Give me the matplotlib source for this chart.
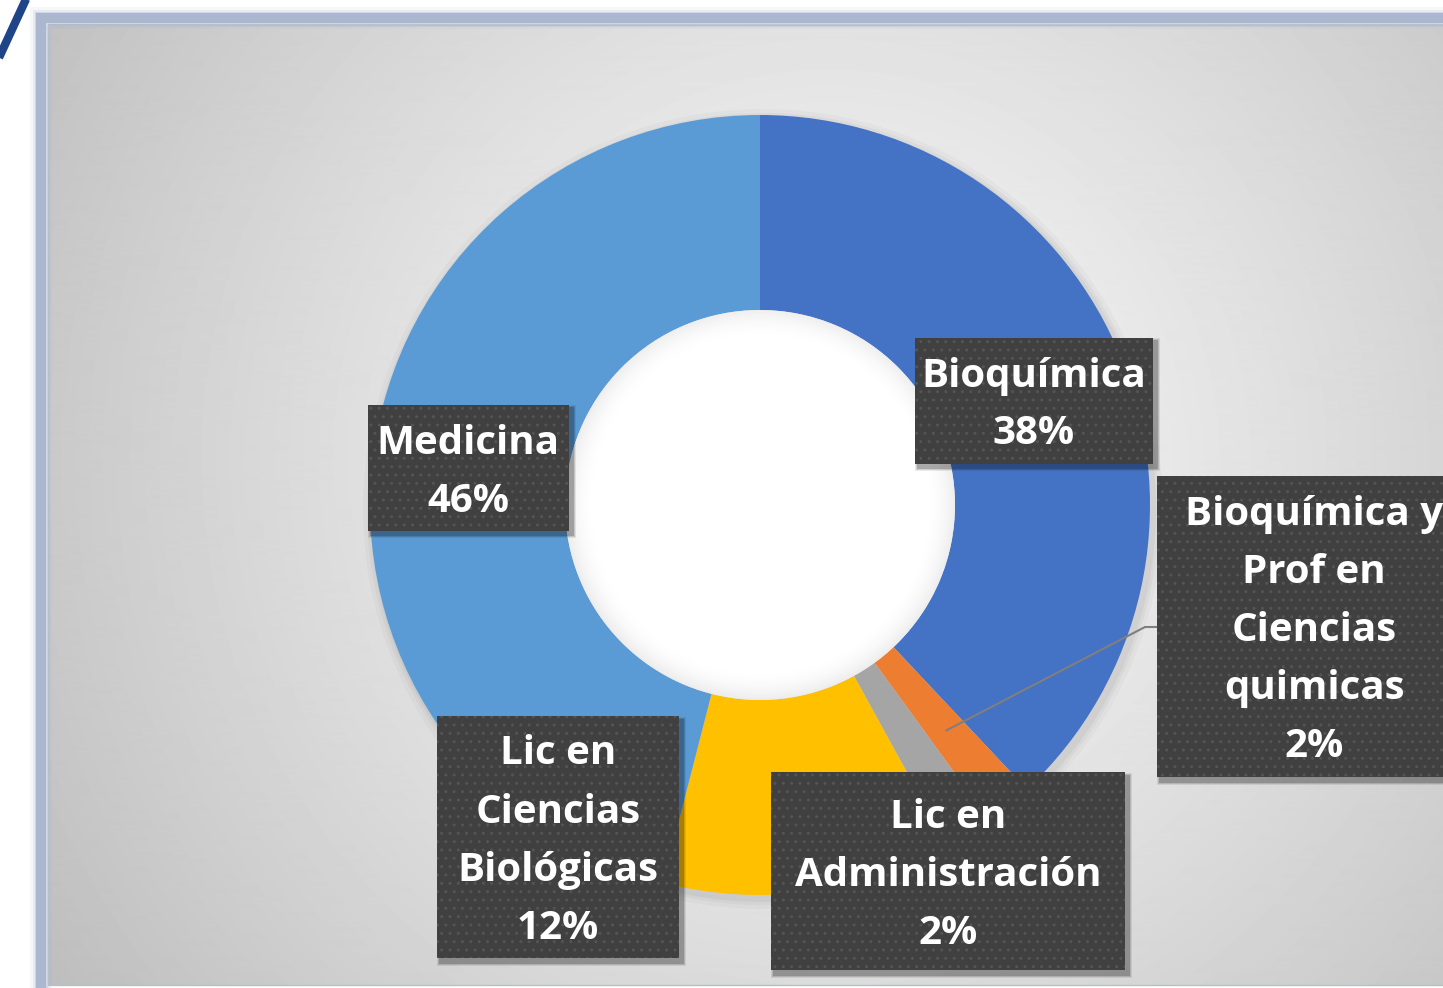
import matplotlib
matplotlib.use('Agg')
import matplotlib.pyplot as plt
import numpy as np
from matplotlib.patches import Rectangle, Circle

categories = ['Bioquímica', 'Bioquímica y\nProf en\nCiencias\nquimicas',
              'Lic en\nAdministración', 'Lic en\nCiencias\nBiológicas', 'Medicina']
values = [38, 2, 2, 12, 46]
colors = ['#4472C4', '#ED7D31', '#A5A5A5', '#FFC000', '#5B9BD5']

W, H = 1443, 988
plt.rcParams['hatch.linewidth'] = 1.0

fig = plt.figure(figsize=(W / 100, H / 100), dpi=100)
fig.patch.set_facecolor('white')
ax = fig.add_axes([0, 0, 1, 1])


def py(y):
    # pixel row (from top) -> data y
    return H - y


# chart area with radial gradient
x0, x1, top, bot = 48, W + 20, 25, 985
yy, xx = np.mgrid[py(bot):py(top), x0:W]
d = np.hypot(xx - 830, yy - py(460)) / 900.0
shade = np.clip(0.975 - 0.22 * d ** 1.2, 0, 1)
ax.imshow(shade, cmap='gray', vmin=0, vmax=1, origin='lower',
          extent=(x0, W, py(bot), py(top)), zorder=0, interpolation='bilinear')

# frame with soft glow
for lw, a in [(22, 0.10), (17, 0.18), (13, 0.35), (10, 0.9)]:
    ax.add_patch(Rectangle((x0 - 7, py(bot) - 7), x1 - x0, bot - top + 14,
                           fill=False, edgecolor='#A6B4CD', lw=lw * 0.72, alpha=a, zorder=1))
ax.add_patch(Rectangle((x0, py(bot)), x1 - x0, bot - top, fill=False,
                       edgecolor='#B8BFCC', lw=1, zorder=1))

# dark blue diagonal at top-left
ax.plot([-3, 27], [py(62), py(-3)], color='#1F4488', lw=6, solid_capstyle='butt', zorder=2)

# donut
cx, cy, R = 760, py(505), 390
for k, a in [(10, 0.025), (6, 0.03), (3, 0.04)]:
    ax.add_patch(Circle((cx + 3, cy - 4), R + k, color='#000000', alpha=a, lw=0, zorder=2))
wedges, _ = ax.pie(values, colors=colors, startangle=90, counterclock=False,
                   center=(cx, cy), radius=R,
                   wedgeprops=dict(width=R / 2, edgecolor='none', zorder=3))

# hole with soft inner shading
r_in = R / 2
hole = Circle((cx, cy), r_in, color='white', lw=0, zorder=3)
ax.add_patch(hole)
hy, hx = np.mgrid[cy - r_in:cy + r_in, cx - r_in:cx + r_in]
dist = np.hypot(hx - cx, hy - cy)
t = np.clip((dist - (r_in - 30)) / 30, 0, 1)
rgba = np.zeros(dist.shape + (4,))
rgba[..., :3] = 0.55
rgba[..., 3] = 0.16 * t ** 2
im = ax.imshow(rgba, origin='lower', extent=(cx - r_in, cx + r_in, cy - r_in, cy + r_in),
               zorder=3.5, interpolation='bilinear')
im.set_clip_path(hole)

# leader line for the orange slice
cum = np.cumsum(values) - np.array(values) / 2
ang = np.deg2rad(cum[1] / sum(values) * 360)
rm = R * 0.75
sx, sy = cx + rm * np.sin(ang), cy + rm * np.cos(ang)
ax.plot([sx, 1145, 1157], [sy, py(627), py(627)], color='#7F7F7F', lw=1.5, zorder=4)

# label boxes: (left, top, right, bottom) in pixels
boxes = [(915, 338, 1153, 464), (1157, 476, 1460, 777), (771, 772, 1125, 970),
         (437, 716, 679, 958), (368, 405, 569, 531)]
text_x = [1034, 1314, 948, 558, 468]
step = 58

for cat, v, (l, t, r, b), tx in zip(categories, values, boxes, text_x):
    for k, a in [(7, 0.08), (5, 0.12), (3, 0.18)]:
        ax.add_patch(Rectangle((l + 3 - k / 2, py(b) - 4 - k / 2), r - l + k, b - t + k,
                               color='#000000', alpha=a, lw=0, zorder=5))
    ax.add_patch(Rectangle((l, py(b)), r - l, b - t, facecolor='#404040',
                           edgecolor='#545454', hatch='..', lw=0, zorder=6))
    lines = cat.split('\n') + [f'{v}%']
    mid = (t + b) / 2 + 4
    n = len(lines)
    for i, s in enumerate(lines):
        ax.text(tx, py(mid + (i - (n - 1) / 2) * step), s, ha='center', va='center',
                color='white', fontsize=29, fontweight='bold', family='Open Sans', zorder=7)

ax.set_xlim(0, W)
ax.set_ylim(0, H)
ax.set_aspect('auto')
ax.axis('off')
fig.savefig('out.png', dpi=100)
